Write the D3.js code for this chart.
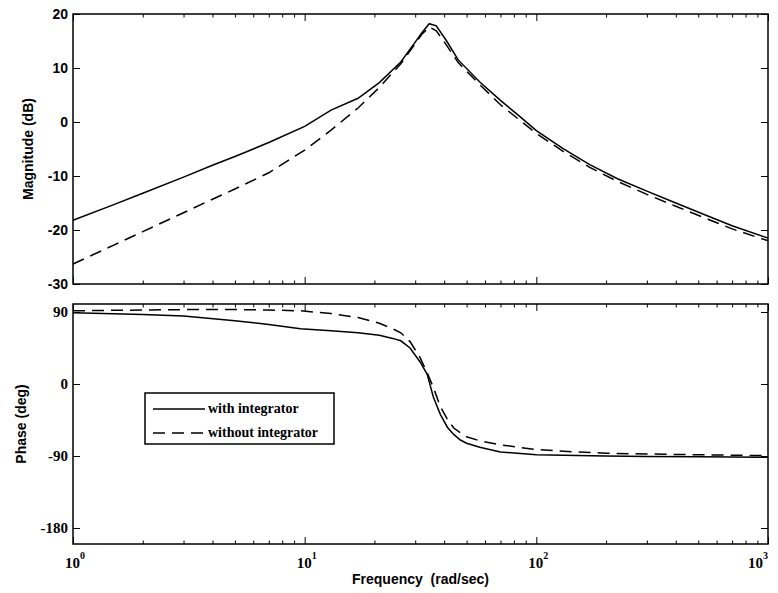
<!DOCTYPE html>
<html>
<head>
<script src="https://d3js.org/d3.v7.min.js"></script>
<style>
body { margin: 0; background: #fff; }
.curve { fill: none; stroke: #000; stroke-width: 1.5; }
.dash { stroke-dasharray: 12,7; }
.ax path { display: none; }
.ax line { stroke: #000; stroke-width: 1; }
</style>
</head>
<body>
<svg width="778" height="593"></svg>
<script>
// magnitude plot data (rad/sec, dB)
var magFreq = [1, 1.5, 2, 3, 4, 5, 7, 10, 13, 17, 21, 26, 30, 32, 34.5, 37, 41, 46, 57, 70, 85, 100, 130, 170, 224, 300, 400, 550, 700, 1000];
var magWith = [-18.2, -15.3, -13.2, -10.2, -8.0, -6.4, -3.8, -0.8, 2.2, 4.4, 7.3, 11.1, 14.8, 16.5, 18.2, 17.8, 15.0, 11.5, 7.4, 4.0, 1.0, -1.6, -4.9, -7.9, -10.5, -12.8, -15.0, -17.4, -19.2, -21.5];
var magWithout = [-26.3, -22.8, -20.3, -16.8, -14.3, -12.4, -9.4, -5.2, -1.5, 2.6, 6.4, 10.8, 14.5, 16.2, 17.6, 16.9, 14.2, 11.0, 6.9, 3.2, 0.3, -2.1, -5.4, -8.4, -11.0, -13.4, -15.6, -18.0, -19.8, -22.0];

// phase plot data (rad/sec, deg)
var phaseFreq = [1, 2, 3, 5, 7, 9.6, 13, 17, 21, 24, 26, 28.5, 31.5, 33.8, 35.9, 38.5, 41.3, 44, 47, 50, 57, 70, 100, 150, 200, 300, 500, 1000];
var phaseWith = [89, 87, 85, 79, 74.5, 69, 66.5, 64, 61, 57, 54, 45, 27.5, 12, -16, -38, -54, -63, -70, -74, -79, -85, -88.5, -89.5, -90, -90.5, -91, -91.5];
var phaseWithout = [91.5, 92.5, 93, 93, 92.5, 91.5, 88, 83, 76, 69, 64, 53, 33, 14, -4, -28, -44, -55, -61, -66, -71, -76, -82, -85, -86.5, -87.5, -88.5, -89.5];

var magTicks = [20, 10, 0, -10, -20, -30];
var phaseTicks = [90, 0, -90, -180];
var decades = [1, 10, 100, 1000];
var legendLabels = ["with integrator", "without integrator"];

var left = 73, right = 768;
var svg = d3.select("svg");

var x = d3.scaleLog().domain([1, 1000]).range([left, right]);
var yMag = d3.scaleLinear().domain([-30, 20]).range([284, 14]);
var yPh = d3.scaleLinear().domain([-200, 100]).range([544, 304]);

var minor = [];
decades.slice(0, 3).forEach(function(d) {
  for (var k = 2; k <= 9; k++) minor.push(d * k);
});

function panel(y, ticks, tickFont, tickWeight, tickSize) {
  var top = y.range()[1], bot = y.range()[0];
  // x ticks, inward on bottom and top
  svg.append("g").attr("class", "ax").attr("transform", "translate(0," + bot + ")")
    .call(d3.axisBottom(x).tickValues(minor).tickSize(-3.5).tickFormat(""));
  svg.append("g").attr("class", "ax").attr("transform", "translate(0," + bot + ")")
    .call(d3.axisBottom(x).tickValues(decades).tickSize(-7).tickFormat(""));
  svg.append("g").attr("class", "ax").attr("transform", "translate(0," + top + ")")
    .call(d3.axisTop(x).tickValues(minor).tickSize(-3.5).tickFormat(""));
  svg.append("g").attr("class", "ax").attr("transform", "translate(0," + top + ")")
    .call(d3.axisTop(x).tickValues(decades).tickSize(-7).tickFormat(""));
  // y ticks, inward on left and right
  svg.append("g").attr("class", "ax").attr("transform", "translate(" + left + ",0)")
    .call(d3.axisLeft(y).tickValues(ticks).tickSize(-7).tickFormat(""));
  svg.append("g").attr("class", "ax").attr("transform", "translate(" + right + ",0)")
    .call(d3.axisRight(y).tickValues(ticks).tickSize(-7).tickFormat(""));
  // tick labels
  svg.append("g").selectAll("text").data(ticks).enter().append("text")
    .attr("x", left - 5).attr("y", function(d) { return y(d); })
    .attr("dy", "0.35em")
    .attr("text-anchor", "end")
    .style("font-family", tickFont).style("font-size", tickSize + "px").style("font-weight", tickWeight)
    .text(function(d) { return d; });
  // frame
  svg.append("rect").attr("x", left).attr("y", top)
    .attr("width", right - left).attr("height", bot - top)
    .attr("fill", "none").attr("stroke", "#000").attr("stroke-width", 1.5);
}

panel(yMag, magTicks, "Liberation Sans, Arial, sans-serif", "bold", 14);
panel(yPh, phaseTicks, "Liberation Serif, Times New Roman, serif", "bold", 15);

function draw(freq, vals, y, dashed) {
  var line = d3.line().x(function(d) { return x(d[0]); }).y(function(d) { return y(d[1]); });
  svg.append("path")
    .datum(d3.zip(freq, vals))
    .attr("class", dashed ? "curve dash" : "curve")
    .attr("d", line);
}
draw(magFreq, magWith, yMag, false);
draw(magFreq, magWithout, yMag, true);
draw(phaseFreq, phaseWith, yPh, false);
draw(phaseFreq, phaseWithout, yPh, true);

// x tick labels (10^n)
var xl = svg.append("g").selectAll("text").data(decades).enter().append("text")
  .attr("x", function(d, i) { return x(d) + (i == 3 ? -10 : 2); })
  .attr("y", 568)
  .attr("text-anchor", "middle")
  .style("font-family", "Liberation Serif, Times New Roman, serif")
  .style("font-size", "15px").style("font-weight", "bold");
xl.append("tspan").text("10");
xl.append("tspan").attr("dy", -9).style("font-size", "10px")
  .text(function(d) { return Math.round(Math.log10(d)); });

// axis titles
svg.append("text")
  .attr("transform", "translate(33,149) rotate(-90)")
  .attr("text-anchor", "middle")
  .style("font-family", "Liberation Sans, Arial, sans-serif").style("font-size", "14px").style("font-weight", "bold")
  .text("Magnitude (dB)");
svg.append("text")
  .attr("transform", "translate(26,424) rotate(-90)")
  .attr("text-anchor", "middle")
  .style("font-family", "Liberation Sans, Arial, sans-serif").style("font-size", "14px").style("font-weight", "bold")
  .text("Phase (deg)");
svg.append("text")
  .attr("x", (left + right) / 2).attr("y", 584)
  .attr("text-anchor", "middle")
  .style("font-family", "Liberation Sans, Arial, sans-serif").style("font-size", "14px").style("font-weight", "bold")
  .style("white-space", "pre")
  .text("Frequency  (rad/sec)");

// legend
var lg = svg.append("g").attr("transform", "translate(145,393)");
lg.append("rect").attr("width", 189).attr("height", 51)
  .attr("fill", "#fff").attr("stroke", "#000").attr("stroke-width", 1.5);
legendLabels.forEach(function(t, i) {
  lg.append("line").attr("x1", 8).attr("x2", 60)
    .attr("y1", 16 + i * 24).attr("y2", 16 + i * 24)
    .attr("class", i ? "curve dash" : "curve");
  lg.append("text").attr("x", 63).attr("y", 16 + i * 24).attr("dy", "0.32em")
    .style("font-family", "Liberation Serif, Times New Roman, serif")
    .style("font-size", "14px").style("font-weight", "bold")
    .text(t);
});
</script>
</body>
</html>
